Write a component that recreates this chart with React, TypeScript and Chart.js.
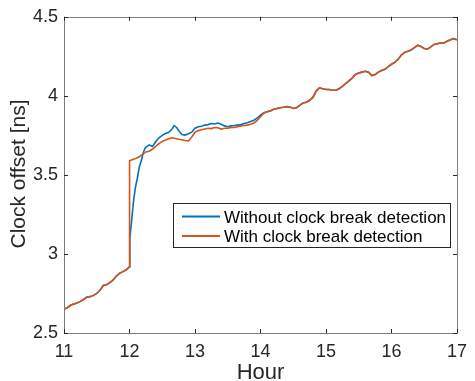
import React, { useEffect, useRef } from "react";
import { Chart, registerables } from "chart.js";

Chart.register(...registerables);

// ---- data ----
const hoursBefore = [11.0, 11.05, 11.1, 11.15, 11.2, 11.25, 11.3, 11.35, 11.4, 11.45, 11.5, 11.55, 11.6, 11.65, 11.7, 11.75, 11.8, 11.85, 11.9, 11.95, 12.0];
const offsetBefore = [2.65, 2.66, 2.675, 2.683, 2.69, 2.7, 2.712, 2.728, 2.73, 2.738, 2.75, 2.77, 2.8, 2.805, 2.818, 2.835, 2.86, 2.878, 2.888, 2.9, 2.918];

const hoursWithBreak = [12.001, 12.05, 12.1, 12.15, 12.2, 12.25, 12.3, 12.35, 12.4, 12.45, 12.5, 12.55, 12.6, 12.65, 12.7, 12.75, 12.8, 12.85, 12.9, 12.95, 13.0, 13.05, 13.1, 13.15, 13.2, 13.25, 13.3, 13.35, 13.4, 13.45, 13.5, 13.55, 13.6, 13.65, 13.7, 13.75, 13.8, 13.85, 13.9, 13.95, 14.0, 14.05];
const offsetWithBreak = [3.59, 3.598, 3.605, 3.615, 3.63, 3.645, 3.65, 3.662, 3.68, 3.698, 3.712, 3.72, 3.728, 3.735, 3.73, 3.725, 3.722, 3.718, 3.715, 3.74, 3.77, 3.78, 3.785, 3.79, 3.795, 3.793, 3.8, 3.798, 3.79, 3.795, 3.795, 3.8, 3.8, 3.805, 3.81, 3.812, 3.815, 3.82, 3.828, 3.845, 3.868, 3.89];

const hoursWithoutBreak = [12.005, 12.03, 12.06, 12.09, 12.12, 12.15, 12.18, 12.21, 12.24, 12.27, 12.3, 12.35, 12.4, 12.45, 12.5, 12.55, 12.6, 12.65, 12.68, 12.72, 12.76, 12.8, 12.85, 12.9, 12.95, 13.0, 13.05, 13.1, 13.15, 13.2, 13.25, 13.3, 13.35, 13.4, 13.45, 13.5, 13.55, 13.6, 13.65, 13.7, 13.75, 13.8, 13.85, 13.9, 13.95, 14.0, 14.05];
const offsetWithoutBreak = [3.1, 3.2, 3.33, 3.42, 3.48, 3.55, 3.59, 3.64, 3.67, 3.68, 3.69, 3.68, 3.71, 3.735, 3.75, 3.762, 3.77, 3.79, 3.812, 3.8, 3.775, 3.755, 3.752, 3.76, 3.77, 3.795, 3.805, 3.808, 3.815, 3.818, 3.825, 3.822, 3.828, 3.82, 3.81, 3.805, 3.81, 3.812, 3.815, 3.818, 3.825, 3.83, 3.838, 3.845, 3.86, 3.878, 3.893];

const hoursAfter = [14.1, 14.15, 14.2, 14.25, 14.3, 14.35, 14.4, 14.45, 14.5, 14.55, 14.6, 14.65, 14.7, 14.75, 14.8, 14.85, 14.9, 14.95, 15.0, 15.05, 15.1, 15.15, 15.2, 15.25, 15.3, 15.35, 15.4, 15.45, 15.5, 15.55, 15.6, 15.65, 15.7, 15.75, 15.8, 15.85, 15.9, 15.95, 16.0, 16.05, 16.1, 16.15, 16.2, 16.25, 16.3, 16.35, 16.4, 16.45, 16.5, 16.55, 16.6, 16.65, 16.7, 16.75, 16.8, 16.85, 16.9, 16.95, 17.0];
const offsetAfter = [3.9, 3.905, 3.915, 3.92, 3.925, 3.928, 3.932, 3.93, 3.92, 3.925, 3.94, 3.955, 3.96, 3.972, 3.99, 4.03, 4.05, 4.045, 4.04, 4.04, 4.035, 4.035, 4.045, 4.06, 4.078, 4.095, 4.112, 4.135, 4.145, 4.15, 4.155, 4.15, 4.128, 4.135, 4.15, 4.16, 4.168, 4.185, 4.2, 4.212, 4.23, 4.258, 4.275, 4.282, 4.29, 4.305, 4.32, 4.312, 4.3, 4.295, 4.31, 4.325, 4.33, 4.335, 4.335, 4.345, 4.355, 4.362, 4.355];

const seriesNames = ["Without clock break detection", "With clock break detection"];
const seriesColors = ["#0072BD", "#D95319"];
const xTicks = [11, 12, 13, 14, 15, 16, 17];
const yTicks = [2.5, 3, 3.5, 4, 4.5];
const xTitle = "Hour";
const yTitle = "Clock offset [ns]";

const FONT = '"Liberation Sans", Arial, Helvetica, sans-serif';

function toPoints(hs: number[], vs: number[]) {
  return hs.map((h, i) => ({ x: h, y: vs[i] }));
}

const boxPlugin = {
  id: "matlabBox",
  afterDraw(chart: any) {
    const { ctx, chartArea: a, scales } = chart;
    const xs = scales.x;
    const ys = scales.y;
    ctx.save();
    ctx.strokeStyle = "#7f7f7f";
    ctx.lineWidth = 1;
    ctx.beginPath();
    ctx.rect(Math.round(a.left) + 0.5, Math.round(a.top) + 0.5, Math.round(a.right - a.left), Math.round(a.bottom - a.top));
    ctx.stroke();
    ctx.strokeStyle = "#262626";
    ctx.beginPath();
    const tl = 4;
    xTicks.forEach((t) => {
      const px = Math.round(xs.getPixelForValue(t)) + 0.5;
      ctx.moveTo(px, a.bottom);
      ctx.lineTo(px, a.bottom - tl);
      ctx.moveTo(px, a.top);
      ctx.lineTo(px, a.top + tl);
    });
    yTicks.forEach((t) => {
      const py = Math.round(ys.getPixelForValue(t)) + 0.5;
      ctx.moveTo(a.left, py);
      ctx.lineTo(a.left + tl, py);
      ctx.moveTo(a.right, py);
      ctx.lineTo(a.right - tl, py);
    });
    ctx.stroke();

    // axis titles
    ctx.fillStyle = "#262626";
    ctx.font = `22px ${FONT}`;
    ctx.textAlign = "center";
    ctx.textBaseline = "alphabetic";
    ctx.fillText(xTitle, (a.left + a.right) / 2, 379);
    ctx.save();
    ctx.translate(25, 174);
    ctx.rotate(-Math.PI / 2);
    ctx.font = `21px ${FONT}`;
    ctx.fillText(yTitle, 0, 0);
    ctx.restore();

    // legend
    const lx = 173.5, ly = 203.5, lw = 277, lh = 44;
    ctx.fillStyle = "#ffffff";
    ctx.fillRect(lx, ly, lw, lh);
    ctx.strokeStyle = "#262626";
    ctx.lineWidth = 1;
    ctx.strokeRect(lx, ly, lw, lh);
    ctx.font = `17px ${FONT}`;
    ctx.textAlign = "left";
    ctx.textBaseline = "alphabetic";
    const rows = [216.5, 236];
    seriesNames.forEach((name, i) => {
      ctx.strokeStyle = seriesColors[i];
      ctx.lineWidth = 2;
      ctx.beginPath();
      ctx.moveTo(182, rows[i]);
      ctx.lineTo(220, rows[i]);
      ctx.stroke();
      ctx.fillStyle = "#000000";
      ctx.fillText(name, 224, rows[i] + 6);
    });
    ctx.restore();
  },
};

export default function App() {
  const ref = useRef<HTMLCanvasElement | null>(null);
  useEffect(() => {
    document.body.style.margin = "0";
    const canvas = ref.current!;
    const blue = toPoints(
      [...hoursBefore, ...hoursWithoutBreak, ...hoursAfter],
      [...offsetBefore, ...offsetWithoutBreak, ...offsetAfter]
    );
    const orange = toPoints(
      [...hoursBefore, ...hoursWithBreak, ...hoursAfter],
      [...offsetBefore, ...offsetWithBreak, ...offsetAfter]
    );
    const chart = new Chart(canvas, {
      type: "line",
      data: {
        datasets: [
          { label: seriesNames[1], data: orange, borderColor: seriesColors[1], borderWidth: 1.6, pointRadius: 0, tension: 0, fill: false },
          { label: seriesNames[0], data: blue, borderColor: seriesColors[0], borderWidth: 1.6, pointRadius: 0, tension: 0, fill: false },
        ],
      },
      plugins: [boxPlugin],
      options: {
        responsive: false,
        animation: false,
        layout: { padding: { top: 14, right: 12, left: 0, bottom: 0 } },
        plugins: { legend: { display: false }, tooltip: { enabled: false } },
        scales: {
          x: {
            type: "linear",
            min: 11,
            max: 17,
            afterBuildTicks: (s: any) => { s.ticks = xTicks.map((v) => ({ value: v })); },
            afterFit: (s: any) => { s.height = 48; },
            grid: { display: false, drawTicks: false },
            border: { display: false },
            ticks: { padding: 8, color: "#262626", font: { family: FONT, size: 18 }, maxRotation: 0, callback: (v: any) => String(v) },
          },
          y: {
            type: "linear",
            min: 2.5,
            max: 4.5,
            afterBuildTicks: (s: any) => { s.ticks = yTicks.map((v) => ({ value: v })); },
            afterFit: (s: any) => { s.width = 64; },
            grid: { display: false, drawTicks: false },
            border: { display: false },
            ticks: { padding: 6, color: "#262626", font: { family: FONT, size: 18 }, callback: (v: any) => String(v) },
          },
        },
      },
    });
    return () => chart.destroy();
  }, []);
  return (
    <div style={{ width: 475, height: 381, background: "#fff" }}>
      <canvas ref={ref} width={475} height={381} />
    </div>
  );
}
